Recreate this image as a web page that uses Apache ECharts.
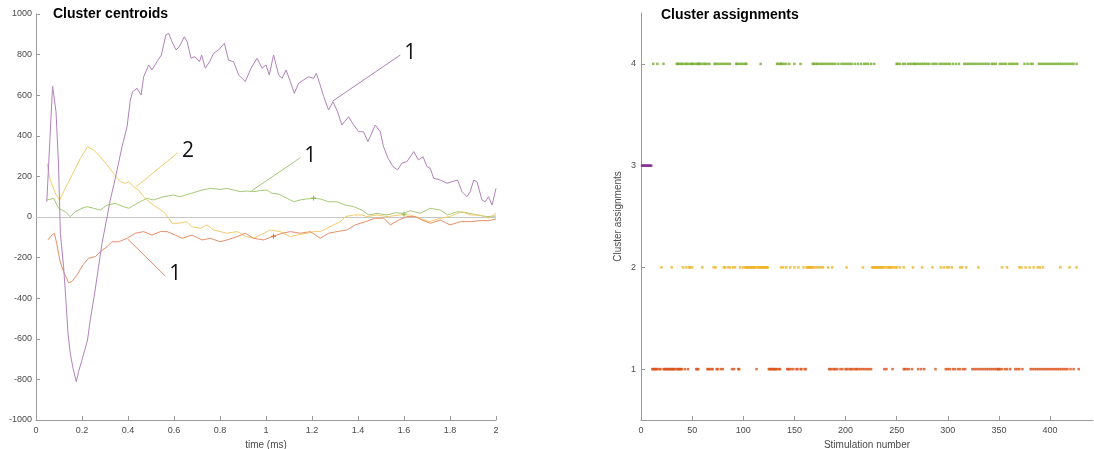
<!DOCTYPE html>
<html>
<head>
<meta charset="utf-8">
<script src="https://cdn.jsdelivr.net/npm/echarts@6.0.0/dist/echarts.min.js"></script>
<style>
html,body{margin:0;padding:0;background:#fff;overflow:hidden;}
#chart{width:1094px;height:449px;}
</style>
</head>
<body>
<div id="chart"></div>
<script>
// ---------- Left panel: cluster centroids (time in ms, amplitude) ----------
const centroid1 = [[0.052,-113],[0.069,-89],[0.08,-80],[0.09,-130],[0.105,-220],[0.12,-269],[0.142,-324],[0.156,-318],[0.178,-286],[0.204,-236],[0.229,-203],[0.258,-195],[0.28,-171],[0.309,-146],[0.33,-122],[0.359,-122],[0.396,-105],[0.432,-80],[0.468,-72],[0.504,-89],[0.541,-72],[0.57,-72],[0.606,-89],[0.635,-105],[0.678,-89],[0.722,-113],[0.758,-105],[0.801,-122],[0.83,-113],[0.874,-97],[0.91,-80],[0.946,-105],[0.99,-113],[1.026,-97],[1.07,-80],[1.106,-72],[1.149,-80],[1.193,-72],[1.236,-105],[1.272,-80],[1.309,-72],[1.352,-64],[1.388,-39],[1.432,-23],[1.475,-6],[1.512,-6],[1.541,-39],[1.577,-15],[1.613,2],[1.649,2],[1.678,-15],[1.714,-31],[1.758,-15],[1.8,-39],[1.845,-23],[1.888,-23],[1.93,-18],[1.968,-18],[2.0,-10]];
const centroid2 = [[0.048,264],[0.062,182],[0.084,117],[0.103,84],[0.12,125],[0.142,174],[0.164,223],[0.193,289],[0.224,346],[0.25,330],[0.28,297],[0.309,256],[0.337,215],[0.367,174],[0.388,166],[0.403,174],[0.424,149],[0.446,133],[0.468,100],[0.482,84],[0.511,59],[0.555,26],[0.577,-6],[0.591,-31],[0.62,-31],[0.656,-23],[0.678,-48],[0.714,-56],[0.743,-39],[0.772,-64],[0.801,-72],[0.83,-80],[0.874,-72],[0.917,-97],[0.946,-105],[0.99,-80],[1.019,-64],[1.062,-72],[1.106,-97],[1.135,-89],[1.178,-80],[1.207,-72],[1.236,-72],[1.265,-56],[1.294,-39],[1.323,-23],[1.345,2],[1.381,10],[1.417,10],[1.439,2],[1.483,10],[1.526,2],[1.584,10],[1.627,10],[1.671,-6],[1.71,-23],[1.758,-6],[1.797,2],[1.852,26],[1.888,10],[1.93,10],[1.968,-6],[2.0,18]];
const centroid3 = [[0.047,75],[0.072,645],[0.087,519],[0.098,256],[0.106,-80],[0.12,-245],[0.13,-409],[0.139,-573],[0.149,-672],[0.161,-745],[0.175,-811],[0.185,-762],[0.2,-704],[0.224,-606],[0.236,-507],[0.255,-376],[0.272,-245],[0.287,-130],[0.309,0],[0.323,84],[0.345,192],[0.374,346],[0.396,445],[0.41,576],[0.42,617],[0.439,634],[0.457,601],[0.468,691],[0.49,749],[0.504,724],[0.526,765],[0.545,798],[0.565,897],[0.577,905],[0.591,864],[0.609,823],[0.623,839],[0.645,888],[0.657,864],[0.674,782],[0.691,790],[0.711,765],[0.72,798],[0.736,733],[0.755,765],[0.772,806],[0.794,823],[0.819,856],[0.837,773],[0.859,765],[0.881,700],[0.91,667],[0.935,733],[0.961,782],[0.983,733],[1.0,749],[1.014,700],[1.033,798],[1.055,700],[1.07,683],[1.087,724],[1.106,667],[1.123,609],[1.142,659],[1.163,675],[1.185,691],[1.207,683],[1.219,708],[1.233,659],[1.251,593],[1.272,527],[1.291,568],[1.311,519],[1.33,453],[1.359,494],[1.381,453],[1.403,420],[1.424,420],[1.443,371],[1.456,404],[1.475,453],[1.497,420],[1.511,346],[1.531,289],[1.552,248],[1.572,232],[1.591,265],[1.613,273],[1.642,322],[1.663,281],[1.683,297],[1.7,248],[1.714,240],[1.729,191],[1.758,182],[1.787,166],[1.809,174],[1.833,182],[1.852,125],[1.874,100],[1.888,125],[1.903,182],[1.917,174],[1.939,84],[1.953,75],[1.968,100],[1.983,59],[2.0,141]];
const centroid4 = [[0.048,84],[0.077,92],[0.098,43],[0.127,26],[0.149,2],[0.171,26],[0.2,43],[0.222,51],[0.25,43],[0.28,34],[0.309,59],[0.345,67],[0.374,54],[0.403,43],[0.439,67],[0.482,92],[0.511,84],[0.555,100],[0.598,108],[0.627,100],[0.649,108],[0.685,120],[0.722,133],[0.758,141],[0.801,136],[0.83,141],[0.859,133],[0.888,125],[0.917,128],[0.946,125],[0.975,130],[1.004,133],[1.025,117],[1.055,113],[1.091,92],[1.12,75],[1.149,84],[1.178,89],[1.207,92],[1.236,89],[1.272,75],[1.309,75],[1.345,59],[1.381,51],[1.417,34],[1.446,10],[1.483,18],[1.526,10],[1.562,21],[1.598,18],[1.627,31],[1.671,18],[1.714,43],[1.758,34],[1.79,10],[1.83,26],[1.874,21],[1.917,10],[1.96,2],[2.0,5]];

// small '+' markers on the centroid traces
const plusMarks1 = [[1.033,-95]];
const plusMarks4 = [[1.207,94],[1.6,14]];

// annotation leader lines [start, end] and their labels
const annot1 = [[0.4,-110],[0.562,-291]];   const annot1Label = '1';
const annot2 = [[0.436,149],[0.617,317]];   const annot2Label = '2';
const annot3 = [[1.29,571],[1.584,798]];    const annot3Label = '1';
const annot4 = [[0.939,130],[1.149,292]];   const annot4Label = '1';

const timeTicks = {min:0, max:2, interval:0.2};
const ampTicks = {min:-1000, max:1000, interval:200};

// ---------- Right panel: cluster assignments (stimulation numbers) ----------
const stimCluster1 = [11,12,13,14,15,16,18,19,22,23,24,25,26,27,28,29,30,31,32,33,35,36,37,38,39,40,43,46,54,55,56,65,66,67,69,70,74,75,78,80,89,91,95,96,113,125,126,127,128,129,130,131,132,133,135,136,143,144,145,147,149,152,153,156,157,160,161,184,185,187,189,190,192,195,197,200,201,203,205,206,208,210,211,213,215,217,219,221,223,225,238,240,246,257,258,260,262,265,271,274,277,288,298,300,302,305,307,310,312,315,317,324,326,328,330,332,334,336,338,340,342,344,346,348,349,350,351,353,356,358,361,366,368,370,373,381,383,385,387,389,391,393,395,397,399,401,403,405,407,409,411,413,415,417,420,423,428];
const stimCluster2 = [20,30,41,44,47,48,50,60,71,73,81,82,85,87,90,92,97,100,102,103,104,105,106,107,108,109,110,111,112,114,115,116,117,118,119,120,121,122,123,124,137,139,142,146,150,154,159,162,163,164,165,166,167,168,170,172,174,176,178,183,187,201,217,226,227,228,229,230,231,232,233,234,235,236,237,239,241,242,243,244,245,247,249,250,253,257,266,275,285,293,296,299,301,304,312,314,318,330,353,358,370,372,376,380,384,388,390,393,410,419,426];
const stimCluster3 = [1,2,3,4,5,6,7,8,9,10];
const stimCluster4 = [12,16,22,35,36,37,39,40,42,44,45,47,49,50,51,53,55,56,57,58,60,62,63,65,67,72,73,75,77,79,81,83,85,87,93,94,96,98,100,102,103,117,133,134,136,137,138,140,142,145,150,156,168,169,171,172,174,176,178,180,182,184,186,188,190,193,196,198,200,202,204,206,209,212,215,218,220,222,225,228,250,251,253,256,258,261,263,265,267,268,270,272,274,276,278,280,282,285,287,289,292,294,296,298,300,302,305,308,311,316,318,320,322,324,326,328,330,332,334,336,338,340,343,345,347,351,353,355,357,360,362,364,366,368,375,378,381,383,389,391,393,395,397,399,401,403,405,407,409,411,413,415,417,419,421,423,426];
const clusterLevels = [1,2,3,4];
const stimTicks = {min:0, max:442, interval:50};

// ---------- styling ----------
const lineColors = ['#E68F69','#F3CC6E','#B282BB','#A6C978'];
const dotColors  = ['#D95319','#EDB120','#7E2F8E','#77AC30'];
const FONT = 'Liberation Sans, Arial, Helvetica, sans-serif';
const axisGray = '#9a9a9a';
const labelGray = '#4a4a4a';
const PLUS = 'path://M4,0H6V4H10V6H6V10H4V6H0V4H4Z';

function axisCommon(margin) {
  return {
    axisLine:{show:true, onZero:false, lineStyle:{color:axisGray, width:1}},
    axisTick:{show:true, inside:true, length:4, lineStyle:{color:axisGray}},
    axisLabel:{fontSize:9, color:labelGray, fontFamily:FONT, margin:margin,
               formatter:function(v){ return String(v); }},
    splitLine:{show:false},
    nameTextStyle:{fontSize:10, color:labelGray, fontFamily:FONT}
  };
}

const centroids = [centroid1, centroid2, centroid3, centroid4];
const annots = [[annot1, annot1Label, 0],[annot2, annot2Label, 1],[annot3, annot3Label, 2],[annot4, annot4Label, 3]];
const stims = [stimCluster1, stimCluster2, stimCluster3, stimCluster4];

const series = [];
[3,1,0,2].forEach(function(i){
  const s = {
    type:'line', xAxisIndex:0, yAxisIndex:0, data:centroids[i],
    showSymbol:false, symbol:'none',
    lineStyle:{color:lineColors[i], width:1},
    z:3
  };
  if (i === 3) {
    s.markLine = {
      silent:true, symbol:['none','none'], label:{show:false},
      lineStyle:{color:'#c6c6c6', type:'solid', width:1},
      data:[{yAxis:0}], z:1
    };
  }
  series.push(s);
});
[[plusMarks1, 0],[plusMarks4, 3]].forEach(function(p){
  series.push({
    type:'scatter', xAxisIndex:0, yAxisIndex:0, data:p[0],
    symbol:PLUS, symbolSize:5, itemStyle:{color:dotColors[p[1]]}, z:5
  });
});
annots.forEach(function(a){
  series.push({
    type:'line', xAxisIndex:0, yAxisIndex:0, data:a[0],
    showSymbol:false, symbol:'none',
    lineStyle:{color:lineColors[a[2]], width:1},
    endLabel:{show:true, formatter:a[1], fontSize:21, color:'#111',
              fontFamily:'Open Sans, DejaVu Sans, sans-serif', distance:4, offset:[0,-2]},
    z:4
  });
});
stims.forEach(function(list, i){
  series.push({
    type:'scatter', xAxisIndex:1, yAxisIndex:1,
    data:list.map(function(s){ return [s, clusterLevels[i]]; }),
    symbol:'rect', symbolSize:[2.5,2.5],
    itemStyle:{color:dotColors[i]},
    z:3
  });
});

const chart = echarts.init(document.getElementById('chart'), null, {renderer:'canvas'});
chart.setOption({
  animation:false,
  backgroundColor:'#ffffff',
  title:[
    {text:'Cluster centroids', left:53, top:7, padding:0, textStyle:{fontSize:14, fontWeight:'bold', color:'#000', fontFamily:FONT}},
    {text:'Cluster assignments', left:661, top:8, padding:0, textStyle:{fontSize:14, fontWeight:'bold', color:'#000', fontFamily:FONT}}
  ],
  grid:[
    {left:36, right:598, top:14, bottom:29, containLabel:false, outerBoundsMode:'none'},
    {left:641, right:1, top:13, bottom:29, containLabel:false, outerBoundsMode:'none'}
  ],
  xAxis:[
    Object.assign(axisCommon(6), {
      type:'value', gridIndex:0, min:timeTicks.min, max:timeTicks.max, interval:timeTicks.interval,
      name:'time (ms)', nameLocation:'middle', nameGap:17
    }),
    (function(){
      const a = axisCommon(6);
      a.axisLabel.showMaxLabel = false;
      return Object.assign(a, {
        type:'value', gridIndex:1, min:stimTicks.min, max:stimTicks.max, interval:stimTicks.interval,
        name:'Stimulation number', nameLocation:'middle', nameGap:17
      });
    })()
  ],
  yAxis:[
    Object.assign(axisCommon(4), {
      type:'value', gridIndex:0, min:ampTicks.min, max:ampTicks.max, interval:ampTicks.interval
    }),
    (function(){
      const a = axisCommon(5);
      a.axisTick.customValues = clusterLevels;
      a.axisLabel.customValues = clusterLevels;
      return Object.assign(a, {
        type:'value', gridIndex:1, min:0.5, max:4.5,
        name:'Cluster assignments', nameLocation:'middle', nameGap:18
      });
    })()
  ],
  series:series
});
</script>
</body>
</html>
